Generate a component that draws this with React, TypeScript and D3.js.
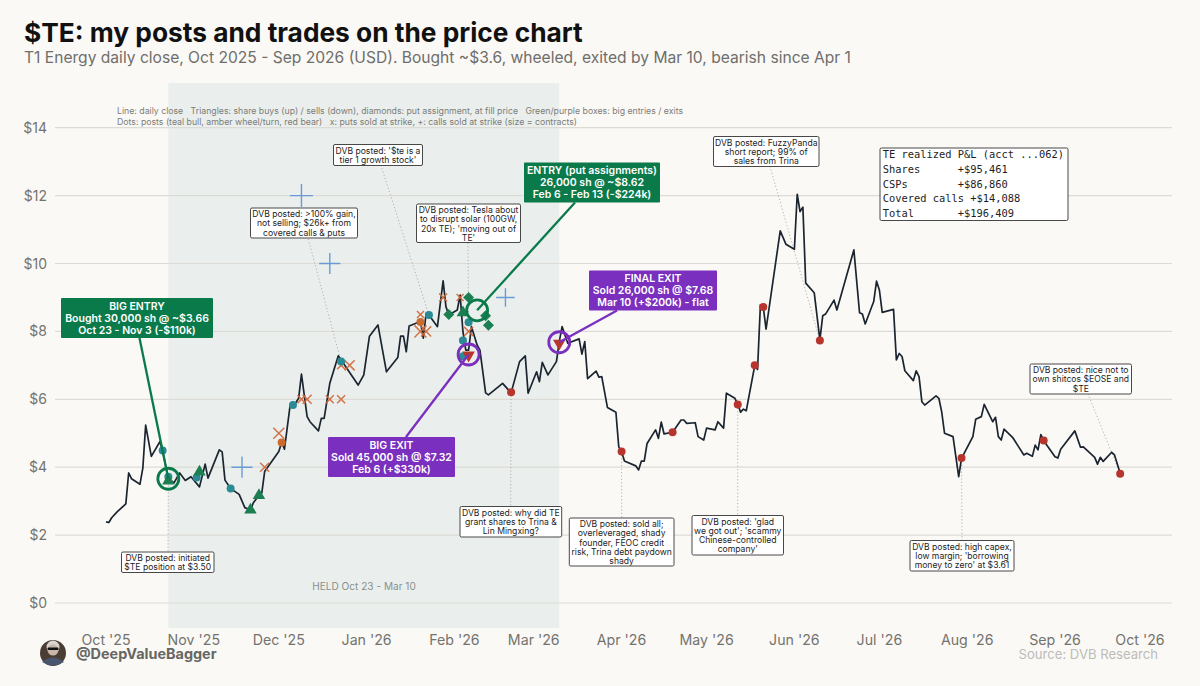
import React from 'react';
import * as d3 from 'd3';

// daily close (days since Oct 1 2025 / USD)
const closeDays = [0,1,2,4,7,8,9,12,13,14,16,19,20,22,24,26,28,30,33,35,36,40,41,42,44,47,49,51,52,54,55,56,61,62,63,65,67,68,69,71,72,75,76,77,79,82,89,91,93,96,99,103,104,105,106,107,111,112,113,114,117,119,120,121,124,125,126,127,128,129,131,132,134,135,140,143,146,148,149,152,153,154,156,159,160,161,163,167,168,169,170,173,174,175,177,180,181,182,183,187,188,189,190,191,194,195,196,197,200,203,204,205,208,209,211,212,215,216,218,219,222,223,224,225,226,229,230,231,232,233,238,240,243,244,245,246,247,250,252,253,254,257,258,264,266,267,268,271,272,273,274,278,279,280,281,282,285,286,287,288,289,293,294,295,296,299,301,302,306,307,309,310,313,314,315,316,317,320,322,324,325,327,328,329,330,331,335,336,337,342,344,345,349,350,351,352,355,356,358];
const closePrices = [2.39,2.37,2.51,2.69,2.92,3.83,3.66,3.5,3.97,5.24,4.32,4.75,4.49,3.66,3.54,3.83,3.61,3.72,3.42,4.09,3.68,4.51,4.45,3.62,3.37,3.2,2.81,2.74,2.95,3.17,3.24,3.87,4.46,4.73,4.53,5.83,5.9,6.03,6.74,5.49,5.34,5.07,5.44,5.44,6.47,7.28,6.42,6.72,7.86,8.19,6.81,7.23,7.86,7.86,7.4,8.16,8.29,7.8,8.53,8.48,8.14,9.49,8.73,8.48,8.63,9.07,7.99,7.45,7.45,8.14,7.6,7.45,6.19,6.13,6.47,6.19,7.11,7.28,6.18,6.81,6.52,7.09,6.72,7.11,7.7,8.14,7.65,7.78,7.33,7.7,6.61,6.83,6.65,6.67,5.76,5.62,4.6,4.46,4.18,4.04,3.92,4.18,4.18,4.7,5.1,4.85,5.33,4.98,5.03,5.39,5.39,5.29,5.31,4.9,4.8,5.15,5.1,5.34,5.15,6.18,6.03,5.86,5.62,5.71,5.66,6.99,6.88,8.78,8.72,8.07,10.96,10.57,10.42,12.04,11.53,11.66,9.42,9.14,7.75,8.46,8.51,8.92,8.63,10.4,8.55,8.51,8.22,8.88,9.48,9.22,8.56,8.65,7.16,7.35,7.26,6.84,6.55,6.84,6.67,5.93,5.83,6.1,6.03,5.63,5,4.9,3.72,4.26,4.9,5.41,5.49,5.85,5.34,5.47,4.9,4.8,5.12,4.88,4.62,4.36,4.41,4.32,4.65,4.51,4.96,4.78,4.31,4.27,4.53,5.07,4.59,4.6,4.29,4.09,4.29,4.17,4.44,4.36,3.82];

const yTicks = [0, 2, 4, 6, 8, 10, 12, 14];
const heldDays = [22, 160];

// posts on the chart
const bullDays = [20, 22, 32, 44, 66, 83, 114, 126, 126, 128];
const bullPrices = [4.49, 3.72, 3.7, 3.37, 5.83, 7.11, 8.48, 7.73, 7.27, 8.27];
const wheelDays = [62, 111];
const wheelPrices = [4.73, 8.28];
const bearDays = [143, 182, 200, 223, 229, 232, 252, 302, 331, 358];
const bearPrices = [6.21, 4.46, 5.03, 5.85, 7.0, 8.72, 7.73, 4.27, 4.79, 3.81];

// trades
const buyDays = [22, 33, 51, 54, 126];
const buyPrices = [3.6, 3.86, 2.74, 3.17, 8.55];
const sellDays = [128, 160];
const sellPrices = [7.3, 7.65];
const assignDays = [121, 128, 134, 135];
const assignPrices = [8.5, 9.0, 8.46, 8.18];
const putDays = [56, 61, 69, 71, 79, 83, 83, 86, 111, 111, 113, 119, 125, 128];
const putStrikes = [4, 5, 6, 6, 6, 6, 7, 7, 8.5, 8, 8, 9, 9, 8];
const putContracts = [40, 60, 31, 40, 31, 31, 31, 50, 24, 71, 50, 31, 24, 40];
const callDays = [48, 69, 79, 141];
const callStrikes = [4, 12, 10, 9];
const callContracts = [220, 260, 220, 170];

const noteLines = [
  ['DVB posted: initiated', '$TE position at $3.50'],
  ['DVB posted: >100% gain,', 'not selling; $26k+ from', 'covered calls & puts'],
  ["DVB posted: '$te is a", "tier 1 growth stock'"],
  ['DVB posted: Tesla about', 'to disrupt solar (100GW,', "20x TE); 'moving out of", "TE'"],
  ['DVB posted: why did TE', 'grant shares to Trina &', 'Lin Mingxing?'],
  ['DVB posted: sold all;', 'overleveraged, shady', 'founder, FEOC credit', 'risk, Trina debt paydown', 'shady'],
  ["DVB posted: 'glad", "we got out'; 'scammy", "Chinese-controlled", "company'"],
  ['DVB posted: FuzzyPanda', 'short report; 99% of', 'sales from Trina'],
  ['DVB posted: high capex,', "low margin; 'borrowing", "money to zero' at $3.61"],
  ['DVB posted: nice not to', 'own shitcos $EOSE and', '$TE'],
];
const noteDays = [22, 83, 114, 128, 143, 182, 223, 252, 302, 358];
const notePrices = [3.66, 7.11, 8.48, 8.27, 6.21, 4.46, 5.85, 7.73, 4.27, 3.81];
// box placement in px: left, top, width, height, connector x on the box
const noteBoxes = [
  [121.5, 552, 92.5, 20.5, 168],
  [250.5, 208, 107, 30, 308],
  [333.5, 144.5, 89, 21, 381],
  [416.5, 204, 104, 38.5, 468],
  [460, 506.5, 101.7, 30.5, 510.7],
  [569.3, 518, 104.7, 48, 621.7],
  [692, 515.5, 91.5, 39.5, 737.7],
  [713.5, 136.5, 105.5, 30, 770],
  [910, 540.5, 104, 30.5, 962],
  [1030, 364, 101.5, 30, 1088],
];

const bigLines = [
  ['BIG ENTRY', 'Bought 30,000 sh @ ~$3.66', 'Oct 23 - Nov 3 (-$110k)'],
  ['ENTRY (put assignments)', '26,000 sh @ ~$8.62', 'Feb 6 - Feb 13 (-$224k)'],
  ['BIG EXIT', 'Sold 45,000 sh @ $7.32', 'Feb 6 (+$330k)'],
  ['FINAL EXIT', 'Sold 26,000 sh @ $7.68', 'Mar 10 (+$200k) - flat'],
];
const bigDays = [22, 131, 128, 160];
const bigPrices = [3.66, 8.62, 7.32, 7.68];
const bigColors = ['#0b7a4b', '#0b7a4b', '#7b2fbe', '#7b2fbe'];
const bigBoxes = [
  [61, 298, 152, 40, 139.5, 338],
  [524, 162.5, 136, 40, 575, 202.5],
  [328, 437, 127, 40, 406, 437],
  [589, 270.5, 128, 40, 617, 310.5],
];

const pnlLines = [
  'TE realized P&L (acct ...062)',
  'Shares      +$95,461',
  'CSPs        +$86,860',
  'Covered calls +$14,088',
  'Total       +$196,409',
];

const legendLines = [
  'Line: daily close   Triangles: share buys (up) / sells (down), diamonds: put assignment, at fill price   Green/purple boxes: big entries / exits',
  'Dots: posts (teal bull, amber wheel/turn, red bear)   x: puts sold at strike, +: calls sold at strike (size = contracts)',
];

const W = 1200;
const H = 686;
const FONT = 'Inter, "Noto Sans", sans-serif';

const origin = new Date(2025, 9, 1);
const toDate = (d: number) => d3.timeDay.offset(origin, d);

const x = d3.scaleTime().domain([origin, new Date(2026, 9, 1)]).range([106, 1140]);
const y = d3.scaleLinear().domain([0, 14]).range([603, 127.7]);
const size = d3.scaleSqrt().domain([0, 260]).range([0, 11.5]);
const monthLabel = d3.timeFormat("%b '%y");

const line = d3.line<number>()
  .x((d) => x(toDate(d)))
  .y((_d, i) => y(closePrices[i]));

const triangle = d3.symbol(d3.symbolTriangle, 68)() as string;
const diamond = d3.symbol(d3.symbolSquare, 60)() as string;

const Dots = ({ days, prices, color }: { days: number[]; prices: number[]; color: string }) => (
  <g fill={color}>
    {days.map((d, i) => (
      <circle key={i} cx={x(toDate(d))} cy={y(prices[i])} r={4} />
    ))}
  </g>
);

export default function App() {
  const ticks = x.ticks(d3.timeMonth.every(1) as d3.TimeInterval);
  return (
    <svg width={W} height={H} viewBox={`0 0 ${W} ${H}`} style={{ position: 'absolute', left: 0, top: 0, display: 'block', fontFamily: FONT }}>
      <rect width={W} height={H} fill="#fbf9f6" />

      <text x={24} y={42} fontSize={26.3} fontWeight={700} fill="#111">$TE: my posts and trades on the price chart</text>
      <text x={24} y={63} fontSize={15.6} fill="#6e6e6a">T1 Energy daily close, Oct 2025 - Sep 2026 (USD). Bought ~$3.6, wheeled, exited by Mar 10, bearish since Apr 1</text>

      <rect x={x(toDate(heldDays[0]))} y={83} width={x(toDate(heldDays[1])) - x(toDate(heldDays[0]))} height={545} fill="#eaefed" />

      {yTicks.map((t) => (
        <g key={t}>
          <line x1={55} x2={1172} y1={y(t)} y2={y(t)} stroke="#dddbd5" strokeWidth={1.2} />
          <text x={47} y={y(t) + 5} textAnchor="end" fontSize={14} fill="#73736e">${t}</text>
        </g>
      ))}
      {ticks.map((t, i) => (
        <text key={i} x={x(t)} y={645} textAnchor="middle" fontSize={14.2} fill="#73736e">{monthLabel(t)}</text>
      ))}

      {legendLines.map((l, i) => (
        <text key={i} x={117} y={114.3 + i * 10.6} fontSize={8.74} fill="#7c7c78" xmlSpace="preserve">{l}</text>
      ))}
      <text x={364} y={590} textAnchor="middle" fontSize={10.1} fill="#8b8f8d">HELD Oct 23 - Mar 10</text>

      {/* dotted leaders from posts to their boxes */}
      {noteBoxes.map((b, i) => {
        const below = b[1] > y(notePrices[i]);
        return (
          <line key={i} x1={x(toDate(noteDays[i]))} y1={y(notePrices[i])} x2={b[4]} y2={below ? b[1] : b[1] + b[3]}
            stroke="#a9a9a5" strokeWidth={0.9} strokeDasharray="1.2 2.2" />
        );
      })}

      <path d={line(closeDays) ?? ''} fill="none" stroke="#1b2530" strokeWidth={1.7} strokeLinejoin="round" />

      <g stroke="#d0693a" strokeWidth={1.5} fill="none" opacity={0.92}>
        {putDays.map((d, i) => {
          const s = size(putContracts[i]);
          const cx = x(toDate(d));
          const cy = y(putStrikes[i]);
          return <path key={i} d={`M${cx - s},${cy - s}L${cx + s},${cy + s}M${cx - s},${cy + s}L${cx + s},${cy - s}`} />;
        })}
      </g>
      <g stroke="#6a9bd6" strokeWidth={1.4} fill="none">
        {callDays.map((d, i) => {
          const s = size(callContracts[i]);
          const cx = x(toDate(d));
          const cy = y(callStrikes[i]);
          return <path key={i} d={`M${cx - s},${cy}L${cx + s},${cy}M${cx},${cy - s}L${cx},${cy + s}`} />;
        })}
      </g>

      <Dots days={bullDays} prices={bullPrices} color="#2b8b95" />
      <Dots days={wheelDays} prices={wheelPrices} color="#cb6a2d" />
      <Dots days={bearDays} prices={bearPrices} color="#b8352e" />

      <g fill="#1b7f52">
        {buyDays.map((d, i) => (
          <path key={i} d={triangle} transform={`translate(${x(toDate(d))},${y(buyPrices[i])})`} />
        ))}
        {assignDays.map((d, i) => (
          <path key={i} d={diamond} transform={`translate(${x(toDate(d))},${y(assignPrices[i])}) rotate(45)`} />
        ))}
      </g>
      <g fill="#b8352e">
        {sellDays.map((d, i) => (
          <path key={i} d={triangle} transform={`translate(${x(toDate(d))},${y(sellPrices[i])}) rotate(180)`} />
        ))}
      </g>

      {/* big callouts */}
      {bigBoxes.map((b, i) => {
        const cx = x(toDate(bigDays[i]));
        const cy = y(bigPrices[i]);
        return (
          <g key={i}>
            <line x1={b[4]} y1={b[5]} x2={cx} y2={cy} stroke={bigColors[i]} strokeWidth={2.3} />
            <circle cx={cx} cy={cy} r={10.5} fill="none" stroke={bigColors[i]} strokeWidth={2.8} />
            <rect x={b[0]} y={b[1]} width={b[2]} height={b[3]} rx={1} fill={bigColors[i]} />
            {bigLines[i].map((l, j) => (
              <text key={j} x={b[0] + b[2] / 2} y={b[1] + 11.8 + j * 12} textAnchor="middle" fontSize={10.5} fontWeight={600} fill="#fff">{l}</text>
            ))}
          </g>
        );
      })}

      {/* post notes */}
      {noteBoxes.map((b, i) => (
        <g key={i}>
          <rect x={b[0]} y={b[1]} width={b[2]} height={b[3]} rx={1.5} fill="#fff" stroke="#333" strokeWidth={0.9} />
          {noteLines[i].map((l, j) => (
            <text key={j} x={b[0] + b[2] / 2} y={b[1] + 9.2 + j * 9.2} textAnchor="middle" fontSize={8.6} fill="#1d1d1d">{l}</text>
          ))}
        </g>
      ))}

      <rect x={880} y={148} width={188} height={72.5} rx={1.5} fill="#fff" stroke="#333" strokeWidth={0.9} />
      {pnlLines.map((l, i) => (
        <text key={i} x={882.7} y={158.3 + i * 14.6} fontFamily='"DejaVu Sans Mono", monospace' fontSize={10.4} fill="#1d1d1d" xmlSpace="preserve">{l}</text>
      ))}

      {/* avatar */}
      <circle cx={53} cy={653} r={13} fill="#4a3d34" />
      <circle cx={53} cy={647} r={6.5} fill="#d8d4d0" />
      <circle cx={53} cy={650} r={5.5} fill="#c9b6a8" />
      <rect x={47.5} y={647.5} width={11} height={2.6} rx={1} fill="#111" />
      <path d="M42,662 Q53,653 64,662 Q53,669 42,662Z" fill="#4a5570" />

      <text x={76} y={658.5} fontSize={14.4} fontWeight={700} fill="#666662">@DeepValueBagger</text>
      <text x={1158} y={659} textAnchor="end" fontSize={13.1} fill="#bcbcb8">Source: DVB Research</text>
    </svg>
  );
}
